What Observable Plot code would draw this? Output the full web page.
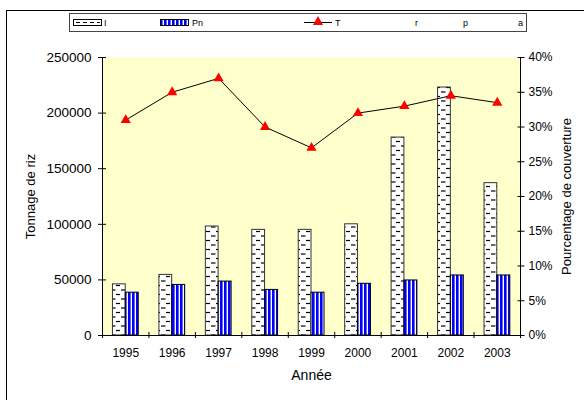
<!DOCTYPE html>
<html>
<head>
<meta charset="utf-8">
<script src="https://cdn.jsdelivr.net/npm/d3@7"></script>
<script src="https://cdn.jsdelivr.net/npm/@observablehq/plot@0.6"></script>
<style>
  html, body { margin: 0; padding: 0; background: #fff; }
  #chart { position: relative; width: 584px; height: 400px; overflow: hidden;
           font-family: "Liberation Sans", Arial, sans-serif; }
  #frame { position: absolute; left: 6px; top: 10px; width: 620px; height: 440px;
           border: 1px solid #000; box-sizing: border-box; }
  #chart svg { position: absolute; left: 0; top: 0; }
</style>
</head>
<body>
<div id="chart">
  <div id="frame"></div>
  <svg width="0" height="0" style="position:absolute">
    <defs>
      <pattern id="hatch" patternUnits="userSpaceOnUse" width="10" height="9">
        <rect width="10" height="9" fill="#fff"/>
        <line x1="1" y1="2" x2="5.5" y2="2" stroke="#000" stroke-width="1.2"/>
        <line x1="6" y1="6.5" x2="10" y2="6.5" stroke="#000" stroke-width="1.2"/>
      </pattern>
      <pattern id="stripes" patternUnits="userSpaceOnUse" width="4" height="4">
        <rect width="4" height="4" fill="#fff"/>
        <rect width="2.6" height="4" fill="#0000ff"/>
      </pattern>
    </defs>
  </svg>
</div>
<script>
// Rice tonnage per year (two series) and coverage percentage
const years = ["1995", "1996", "1997", "1998", "1999", "2000", "2001", "2002", "2003"];
const tonnageA = [46000, 54500, 98000, 95000, 95000, 100000, 178000, 223000, 137000];
const tonnageB = [38500, 45500, 48500, 41000, 38500, 46500, 49500, 54000, 54000];
const coverage = [31, 35, 37, 30, 27, 32, 33, 34.5, 33.5]; // percent
const leftTicks = [0, 50000, 100000, 150000, 200000, 250000];
const rightTicks = [0, 5, 10, 15, 20, 25, 30, 35, 40]; // percent
const legendLabels = ["I", "Pn", "T", "r", "p", "a"];

const yMax = 250000, pMax = 40;
const k = yMax / pMax; // percent -> tonnage units on the shared y scale
const font = "'Liberation Sans', Arial, sans-serif";

const idx = years.map((d, i) => i);

const chart = Plot.plot({
  width: 584,
  height: 400,
  marginLeft: 102,
  marginRight: 64,
  marginTop: 57,
  marginBottom: 65,
  style: { fontFamily: font, fontSize: "12px", background: "transparent", color: "#000" },
  x: { type: "linear", domain: [0, years.length], axis: null },
  y: { domain: [0, yMax], axis: null },
  marks: [
    Plot.frame({ fill: "#ffffcc", stroke: null }),
    // tonnage bars
    Plot.rect(idx, { x1: i => i + 0.225, x2: i => i + 0.5, y1: 0, y2: i => tonnageA[i],
      fill: "url(#hatch)", stroke: "#333", strokeWidth: 1 }),
    Plot.rect(idx, { x1: i => i + 0.5, x2: i => i + 0.78, y1: 0, y2: i => tonnageB[i],
      fill: "url(#stripes)", stroke: "#000", strokeWidth: 1 }),
    // coverage line
    Plot.line(idx, { x: i => i + 0.5, y: i => coverage[i] * k, stroke: "#000", strokeWidth: 1 }),
    Plot.dot(idx, { x: i => i + 0.5, y: i => coverage[i] * k, symbol: "triangle", r: 3.8, fill: "#ff0000", stroke: null }),
    // axis lines
    Plot.ruleX([0, years.length], { stroke: "#000" }),
    Plot.ruleY([0], { stroke: "#000" }),
    // left axis
    Plot.axisY(leftTicks, { anchor: "left", tickSize: 8, dx: 4, tickPadding: 7,
      tickFormat: d => String(d), fontSize: 13.5 }),
    // right axis
    Plot.axisY(rightTicks.map(p => p * k), { anchor: "right", tickSize: 7, dx: -3.5, tickPadding: 4.5,
      tickFormat: v => Math.round(v / k) + "%", fontSize: 12 }),
    // category boundary ticks
    Plot.axisX(d3.range(years.length + 1), { anchor: "bottom", tickSize: 6, dy: -3, tickFormat: () => "" }),
    // year labels
    Plot.axisX(idx.map(i => i + 0.5), { anchor: "bottom", tickSize: 0, tickPadding: 13,
      tickFormat: v => years[Math.floor(v)], fontSize: 12 }),
    // axis titles
    Plot.text(["Tonnage de riz"], { frameAnchor: "left", textAnchor: "middle", rotate: -90, dx: -72, fontSize: 13 }),
    Plot.text(["Pourcentage de couverture"], { frameAnchor: "right", textAnchor: "middle", rotate: -90, dx: 46, fontSize: 13 }),
    Plot.text(["Année"], { frameAnchor: "bottom", dy: 44.5, fontSize: 14 })
  ]
});
document.getElementById("chart").appendChild(chart);

// legend box
const leg = d3.select("#chart").append("svg")
  .attr("width", 584).attr("height", 40)
  .style("font-family", font).style("font-size", "9px");
leg.append("rect").attr("x", 69.5).attr("y", 13.5).attr("width", 457).attr("height", 18)
  .attr("fill", "#fff").attr("stroke", "#444");
// swatch: hatched series
leg.append("rect").attr("x", 73.5).attr("y", 19.5).attr("width", 28).attr("height", 6)
  .attr("fill", "#fff").attr("stroke", "#000");
leg.append("line").attr("x1", 76).attr("x2", 100).attr("y1", 22.5).attr("y2", 22.5)
  .attr("stroke", "#000").attr("stroke-dasharray", "4,3");
// swatch: striped series
leg.append("rect").attr("x", 160.5).attr("y", 19.5).attr("width", 28).attr("height", 6)
  .attr("fill", "url(#stripes)").attr("stroke", "#000");
// swatch: line with triangle
leg.append("line").attr("x1", 304).attr("x2", 332).attr("y1", 22.5).attr("y2", 22.5)
  .attr("stroke", "#000");
leg.append("path").attr("transform", "translate(318,22)")
  .attr("d", d3.symbol(d3.symbolTriangle, 45)()).attr("fill", "#ff0000");
const labelX = [104, 192, 335, 415, 463, 518];
leg.selectAll("text.l").data(legendLabels).join("text")
  .attr("x", (d, i) => labelX[i]).attr("y", 26).attr("fill", "#000").text(d => d);
</script>
</body>
</html>
